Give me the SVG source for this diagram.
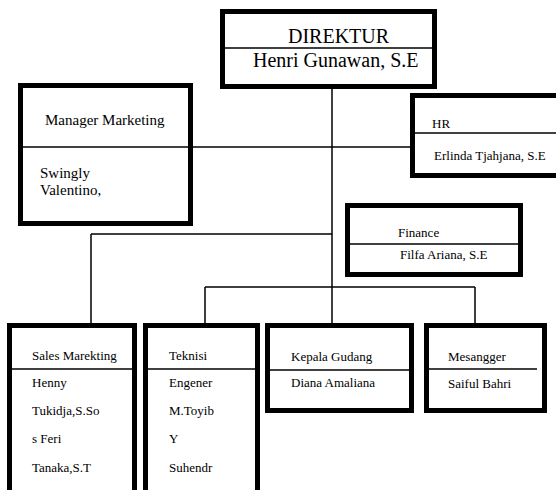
<svg xmlns="http://www.w3.org/2000/svg" width="556" height="490" viewBox="0 0 556 490">
  <style>
    .box { fill: #ffffff; stroke: #000000; stroke-width: 5; }
    .div { stroke: #000000; stroke-width: 1.5; fill: none; }
    .conn { stroke: #000000; stroke-width: 1.5; fill: none; }
    text { font-family: "Liberation Serif", "Times New Roman", serif; fill: #000000; }
    .big { font-size: 20px; }
    .mid { font-size: 15px; }
    .sm { font-size: 13px; }
  </style>
  <rect width="556" height="490" fill="#ffffff"/>

  <!-- connectors -->
  <g id="connectors">
    <path class="conn" d="M332,89 V323"/>
    <path class="conn" d="M193,147 H410"/>
    <path class="conn" d="M91,234 H332 M91,234 V323"/>
    <path class="conn" d="M205,287 H475 M205,287 V323 M475,287 V323"/>
  </g>

  <!-- direktur -->
  <g id="direktur">
    <rect class="box" x="222.5" y="11.5" width="212" height="75"/>
    <line class="div" x1="225" y1="48" x2="432" y2="48"/>
    <text class="big" x="288" y="43">DIREKTUR</text>
    <text class="big" x="253" y="67">Henri Gunawan, S.E</text>
  </g>

  <!-- manager marketing -->
  <g id="manager-marketing">
    <rect class="box" x="20.5" y="85.5" width="170" height="138"/>
    <line class="div" x1="23" y1="147" x2="188" y2="147"/>
    <text class="mid" x="45" y="125">Manager Marketing</text>
    <text class="mid" x="40" y="178">Swingly</text>
    <text class="mid" x="40" y="195">Valentino,</text>
  </g>

  <!-- hr -->
  <g id="hr">
    <rect class="box" x="412.5" y="95.5" width="160" height="80"/>
    <line class="div" x1="415" y1="133" x2="556" y2="133"/>
    <text class="sm" x="432" y="128">HR</text>
    <text class="sm" x="434" y="160">Erlinda Tjahjana, S.E</text>
  </g>

  <!-- finance -->
  <g id="finance">
    <rect class="box" x="347.5" y="205.5" width="173" height="69"/>
    <line class="div" x1="350" y1="244" x2="518" y2="244"/>
    <text class="sm" x="398" y="237">Finance</text>
    <text class="sm" x="400" y="259">Filfa Ariana, S.E</text>
  </g>

  <!-- sales marekting -->
  <g id="sales-marekting">
    <rect class="box" x="9.5" y="325.5" width="125" height="200"/>
    <line class="div" x1="12" y1="369" x2="132" y2="369"/>
    <text class="sm" x="32" y="360">Sales Marekting</text>
    <text class="sm" x="32" y="387">Henny</text>
    <text class="sm" x="32" y="415">Tukidja,S.So</text>
    <text class="sm" x="32" y="443">s Feri</text>
    <text class="sm" x="32" y="472">Tanaka,S.T</text>
  </g>

  <!-- teknisi -->
  <g id="teknisi">
    <rect class="box" x="145.5" y="325.5" width="112" height="200"/>
    <line class="div" x1="148" y1="369" x2="255" y2="369"/>
    <text class="sm" x="169" y="360">Teknisi</text>
    <text class="sm" x="169" y="387">Engener</text>
    <text class="sm" x="169" y="415">M.Toyib</text>
    <text class="sm" x="169" y="443">Y</text>
    <text class="sm" x="169" y="472">Suhendr</text>
  </g>

  <!-- kepala gudang -->
  <g id="kepala-gudang">
    <rect class="box" x="267.5" y="325.5" width="144" height="85"/>
    <line class="div" x1="270" y1="370" x2="409" y2="370"/>
    <text class="sm" x="291" y="361">Kepala Gudang</text>
    <text class="sm" x="291" y="387">Diana Amaliana</text>
  </g>

  <!-- mesangger -->
  <g id="mesangger">
    <rect class="box" x="426.5" y="325.5" width="118" height="85"/>
    <line class="div" x1="429" y1="369" x2="537" y2="369"/>
    <text class="sm" x="448" y="361">Mesangger</text>
    <text class="sm" x="448" y="388">Saiful Bahri</text>
  </g>
</svg>
